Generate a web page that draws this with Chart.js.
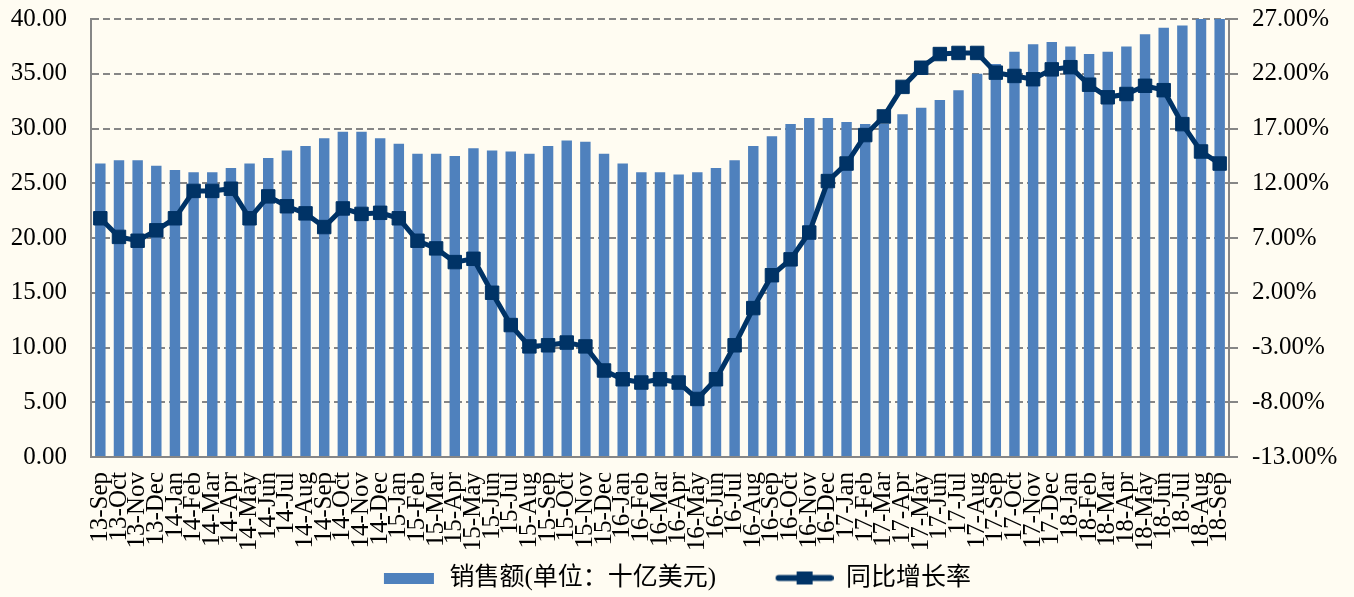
<!DOCTYPE html>
<html>
<head>
<meta charset="utf-8">
<script src="https://cdn.jsdelivr.net/npm/chart.js@4.4.1/dist/chart.umd.min.js"></script>
<style>
html,body{margin:0;padding:0;background:#FFFCF2;}
canvas{display:block;}
</style>
</head>
<body>
<canvas id="c" width="1354" height="597"></canvas>
<script>
const categories = [
  '13-Sep','13-Oct','13-Nov','13-Dec',
  '14-Jan','14-Feb','14-Mar','14-Apr','14-May','14-Jun','14-Jul','14-Aug','14-Sep','14-Oct','14-Nov','14-Dec',
  '15-Jan','15-Feb','15-Mar','15-Apr','15-May','15-Jun','15-Jul','15-Aug','15-Sep','15-Oct','15-Nov','15-Dec',
  '16-Jan','16-Feb','16-Mar','16-Apr','16-May','16-Jun','16-Jul','16-Aug','16-Sep','16-Oct','16-Nov','16-Dec',
  '17-Jan','17-Feb','17-Mar','17-Apr','17-May','17-Jun','17-Jul','17-Aug','17-Sep','17-Oct','17-Nov','17-Dec',
  '18-Jan','18-Feb','18-Mar','18-Apr','18-May','18-Jun','18-Jul','18-Aug','18-Sep'
];
const salesValues = [
  26.8, 27.1, 27.1, 26.6,
  26.2, 26.0, 26.0, 26.4, 26.8, 27.3, 28.0, 28.4, 29.1, 29.7, 29.7, 29.1,
  28.6, 27.7, 27.7, 27.5, 28.2, 28.0, 27.9, 27.7, 28.4, 28.9, 28.8, 27.7,
  26.8, 26.0, 26.0, 25.8, 26.0, 26.4, 27.1, 28.4, 29.3, 30.4, 30.95, 30.95,
  30.6, 30.4, 30.4, 31.3, 31.9, 32.6, 33.5, 35.0, 35.9, 37.0, 37.7, 37.9,
  37.5, 36.8, 37.0, 37.5, 38.6, 39.2, 39.4, 40.2, 40.5
];
const growthRates = [
  8.8, 7.1, 6.75, 7.7,
  8.8, 11.3, 11.3, 11.5, 8.8, 10.8, 9.9, 9.25, 8.0, 9.7, 9.2, 9.3,
  8.8, 6.75, 6.05, 4.8, 5.1, 2.0, -0.95, -2.9, -2.8, -2.55, -2.9, -5.1,
  -5.9, -6.2, -5.9, -6.2, -7.7, -5.9, -2.8, 0.6, 3.6, 5.05, 7.5, 12.2,
  13.8, 16.4, 18.1, 20.8, 22.55, 23.8, 23.9, 23.9, 22.1, 21.8, 21.5, 22.4,
  22.6, 21.0, 19.85, 20.15, 20.9, 20.5, 17.4, 14.9, 13.8
];
const leftTickLabels = ['0.00','5.00','10.00','15.00','20.00','25.00','30.00','35.00','40.00'];
const rightTickLabels = ['-13.00%','-8.00%','-3.00%','2.00%','7.00%','12.00%','17.00%','22.00%','27.00%'];
const seriesNames = ['销售额(单位：十亿美元)', '同比增长率'];

const barColor = '#4F81BD';
const lineColor = '#003366';
const gridColor = '#868686';
const bgColor = '#FFFCF2';
const serif = "'Liberation Serif', 'Times New Roman', serif";
const legendFont = "'Liberation Serif', 'Noto Sans CJK SC', serif";
const swatchW = 106;

function makeBarSwatch() {
  const c = document.createElement('canvas');
  c.width = swatchW; c.height = 11;
  const g = c.getContext('2d');
  g.fillStyle = barColor;
  g.fillRect(swatchW - 53, 0, 50, 11);
  return c;
}
function makeLineSwatch() {
  const c = document.createElement('canvas');
  c.width = swatchW; c.height = 15;
  const g = c.getContext('2d');
  const x0 = swatchW - 58;
  g.strokeStyle = lineColor;
  g.lineWidth = 6;
  g.lineCap = 'round';
  g.beginPath();
  g.moveTo(x0 + 3, 7.5);
  g.lineTo(x0 + 55, 7.5);
  g.stroke();
  g.fillStyle = lineColor;
  g.fillRect(x0 + 21, 1, 16, 13);
  return c;
}
const barSwatch = makeBarSwatch();
const lineSwatch = makeLineSwatch();

const bgPlugin = {
  id: 'bg',
  beforeDraw(chart) {
    const ctx = chart.ctx;
    ctx.save();
    ctx.fillStyle = bgColor;
    ctx.fillRect(0, 0, chart.width, chart.height);
    ctx.restore();
  }
};

new Chart(document.getElementById('c'), {
  type: 'bar',
  data: {
    labels: categories,
    datasets: [
      {
        type: 'line',
        label: seriesNames[1],
        data: growthRates,
        yAxisID: 'y1',
        borderColor: lineColor,
        backgroundColor: lineColor,
        borderWidth: 5,
        pointStyle: 'rect',
        pointRadius: 9.5,
        pointBackgroundColor: lineColor,
        pointBorderColor: lineColor,
        pointBorderWidth: 1,
        tension: 0,
        fill: false,
        order: 0
      },
      {
        type: 'bar',
        label: seriesNames[0],
        data: salesValues,
        yAxisID: 'y',
        backgroundColor: barColor,
        borderWidth: 0,
        barPercentage: 0.56,
        categoryPercentage: 1.0,
        order: 1
      }
    ]
  },
  options: {
    responsive: false,
    animation: false,
    devicePixelRatio: 1,
    layout: { padding: { top: 19, left: -52, right: 0, bottom: -3.5 } },
    plugins: {
      tooltip: { enabled: false },
      legend: {
        display: true,
        position: 'bottom',
        align: 'center',
        labels: {
          usePointStyle: true,
          pointStyleWidth: swatchW,
          padding: 11.5,
          color: '#000',
          font: { family: legendFont, size: 25 },
          generateLabels() {
            return [
              { text: seriesNames[0], pointStyle: barSwatch, fillStyle: barColor, strokeStyle: barColor, lineWidth: 0, hidden: false, datasetIndex: 1 },
              { text: seriesNames[1], pointStyle: lineSwatch, fillStyle: lineColor, strokeStyle: lineColor, lineWidth: 0, hidden: false, datasetIndex: 0 }
            ];
          }
        }
      }
    },
    scales: {
      x: {
        type: 'category',
        offset: true,
        grid: { display: false, drawTicks: false },
        border: { display: true, color: gridColor, width: 2 },
        ticks: {
          autoSkip: false,
          minRotation: 90,
          maxRotation: 90,
          padding: 15,
          color: '#000',
          font: { family: serif, size: 25 }
        },
        afterFit(scale) { scale.height = 97; }
      },
      y: {
        position: 'left',
        min: 0,
        max: 40,
        ticks: {
          stepSize: 5,
          padding: 4,
          color: '#000',
          font: { family: serif, size: 25 },
          callback: (v, i) => leftTickLabels[i]
        },
        grid: { display: true, drawOnChartArea: true, drawTicks: true, tickLength: 20, tickColor: 'rgba(0,0,0,0)', color: gridColor, lineWidth: 2 },
        border: { display: true, color: gridColor, width: 2, dash: [7, 4] },
        afterFit(scale) { scale.width = 143; }
      },
      y1: {
        position: 'right',
        min: -13,
        max: 27,
        ticks: {
          stepSize: 5,
          padding: 4,
          color: '#000',
          font: { family: serif, size: 25 },
          callback: (v, i) => rightTickLabels[i]
        },
        grid: { display: true, drawOnChartArea: false, drawTicks: true, tickLength: 19, color: gridColor, tickColor: gridColor, tickWidth: 2, lineWidth: 2, tickBorderDash: [8, 40] },
        border: { display: true, color: gridColor, width: 2 },
        afterFit(scale) { scale.width = 125; }
      }
    }
  },
  plugins: [bgPlugin]
});
</script>
</body>
</html>
